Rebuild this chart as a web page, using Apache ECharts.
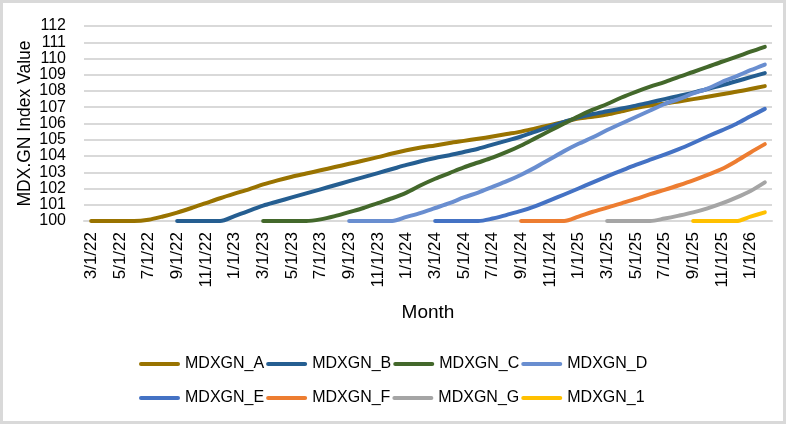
<!DOCTYPE html>
<html><head><meta charset="utf-8">
<script src="https://cdn.jsdelivr.net/npm/echarts@6/dist/echarts.min.js"></script>
<style>html,body{margin:0;padding:0;background:#fff}#c{width:786px;height:424px}</style>
</head><body><div id="c"></div>
<script>
const months = ['3/1/22','4/1/22','5/1/22','6/1/22','7/1/22','8/1/22','9/1/22','10/1/22','11/1/22','12/1/22',
  '1/1/23','2/1/23','3/1/23','4/1/23','5/1/23','6/1/23','7/1/23','8/1/23','9/1/23','10/1/23','11/1/23','12/1/23',
  '1/1/24','2/1/24','3/1/24','4/1/24','5/1/24','6/1/24','7/1/24','8/1/24','9/1/24','10/1/24','11/1/24','12/1/24',
  '1/1/25','2/1/25','3/1/25','4/1/25','5/1/25','6/1/25','7/1/25','8/1/25','9/1/25','10/1/25','11/1/25','12/1/25',
  '1/1/26','2/1/26'];
const seriesNames = ['MDXGN_A','MDXGN_B','MDXGN_C','MDXGN_D','MDXGN_E','MDXGN_F','MDXGN_G','MDXGN_1'];
const yTicks = [100,101,102,103,104,105,106,107,108,109,110,111,112];

const valuesA = [100,100,100,100,100.08,100.28,100.52,100.8,101.1,101.4,101.68,101.95,102.25,102.5,102.72,102.92,103.12,103.32,103.52,103.72,103.93,104.15,104.35,104.52,104.65,104.8,104.93,105.06,105.2,105.35,105.5,105.7,105.9,106.1,106.3,106.42,106.55,106.75,106.95,107.1,107.22,107.36,107.5,107.65,107.8,107.95,108.12,108.3];
const valuesB = [null,null,null,null,null,null,100,100,100,100,100.3,100.62,100.95,101.2,101.45,101.7,101.95,102.2,102.45,102.7,102.95,103.2,103.45,103.68,103.88,104.05,104.25,104.45,104.7,104.95,105.2,105.5,105.8,106.1,106.38,106.58,106.75,106.92,107.1,107.3,107.5,107.7,107.9,108.12,108.35,108.6,108.85,109.1];
const valuesC = [null,null,null,null,null,null,null,null,null,null,null,null,100,100,100,100,100.1,100.3,100.55,100.8,101.1,101.4,101.75,102.2,102.6,102.95,103.3,103.6,103.9,104.25,104.65,105.1,105.55,106.0,106.45,106.85,107.2,107.6,107.95,108.27,108.55,108.87,109.17,109.48,109.8,110.1,110.42,110.72];
const valuesD = [null,null,null,null,null,null,null,null,null,null,null,null,null,null,null,null,null,null,100,100,100,100,100.25,100.5,100.8,101.1,101.45,101.75,102.1,102.45,102.85,103.3,103.8,104.3,104.75,105.15,105.6,106.0,106.4,106.8,107.2,107.5,107.85,108.15,108.55,108.9,109.28,109.63];
const valuesE = [null,null,null,null,null,null,null,null,null,null,null,null,null,null,null,null,null,null,null,null,null,null,null,null,100,100,100,100,100.15,100.38,100.62,100.92,101.27,101.63,102.0,102.38,102.75,103.1,103.45,103.77,104.08,104.42,104.8,105.2,105.58,105.97,106.44,106.9];
const valuesF = [null,null,null,null,null,null,null,null,null,null,null,null,null,null,null,null,null,null,null,null,null,null,null,null,null,null,null,null,null,null,100,100,100,100,100.27,100.57,100.82,101.09,101.36,101.65,101.92,102.2,102.5,102.84,103.2,103.68,104.22,104.73];
const valuesG = [null,null,null,null,null,null,null,null,null,null,null,null,null,null,null,null,null,null,null,null,null,null,null,null,null,null,null,null,null,null,null,null,null,null,null,null,100,100,100,100,100.15,100.33,100.53,100.78,101.08,101.44,101.85,102.38];
const values1 = [null,null,null,null,null,null,null,null,null,null,null,null,null,null,null,null,null,null,null,null,null,null,null,null,null,null,null,null,null,null,null,null,null,null,null,null,null,null,null,null,null,null,100,100,100,100,100.27,100.53];

const allValues = [valuesA,valuesB,valuesC,valuesD,valuesE,valuesF,valuesG,values1];
const colors = ['#997300','#255E91','#43682B','#698ED0','#4472C4','#ED7D31','#A5A5A5','#FFC000'];
const FONT = "'Liberation Sans', Arial, sans-serif";
const icon = 'path://M2 0H39A2 2 0 0 1 39 4H2A2 2 0 0 1 2 0Z';

const legendBase = {
  left: 139, itemWidth: 41, itemHeight: 4, itemGap: 2, padding: 0, icon: icon,
  textStyle: {fontSize: 16, color: '#000', fontFamily: FONT, width: 79, overflow: 'none'}
};

const chart = echarts.init(document.getElementById('c'));
chart.setOption({
  animation: false,
  backgroundColor: '#fff',
  color: colors,
  graphic: [{type: 'rect', shape: {x: 1.5, y: 1.5, width: 783, height: 421},
    style: {fill: 'none', stroke: '#d9d9d9', lineWidth: 3}, silent: true}],
  grid: {left: 84, top: 26, width: 688, height: 195, containLabel: false},
  legend: [
    Object.assign({}, legendBase, {top: 356, data: seriesNames.slice(0,4)}),
    Object.assign({}, legendBase, {top: 390, data: seriesNames.slice(4)})
  ],
  xAxis: {
    type: 'category', data: months, boundaryGap: true,
    name: 'Month', nameLocation: 'middle', nameGap: 82, nameMoveOverlap: false,
    nameTextStyle: {fontSize: 19, color: '#000', fontFamily: FONT},
    axisLine: {lineStyle: {color: '#d9d9d9', width: 2}},
    axisTick: {show: false},
    axisLabel: {interval: 1, rotate: 90, margin: 11, fontSize: 17, color: '#000', fontFamily: FONT}
  },
  yAxis: {
    type: 'value', min: yTicks[0], max: yTicks[yTicks.length-1], interval: 1,
    name: 'MDX.GN Index Value', nameLocation: 'middle', nameGap: 50, nameMoveOverlap: false,
    nameTextStyle: {fontSize: 17.5, color: '#000', fontFamily: FONT},
    axisLine: {show: false}, axisTick: {show: false},
    axisLabel: {margin: 18, fontSize: 16, color: '#000', fontFamily: FONT},
    splitLine: {lineStyle: {color: '#d9d9d9', width: 2}}
  },
  series: seriesNames.map((n, i) => ({
    name: n, type: 'line', data: allValues[i], showSymbol: false, smooth: 0.3,
    lineStyle: {width: 4, cap: 'round', join: 'round', color: colors[i]},
    itemStyle: {color: colors[i]}
  }))
});
</script></body></html>
